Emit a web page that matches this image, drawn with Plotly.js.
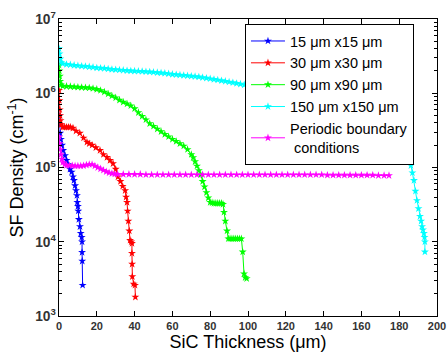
<!DOCTYPE html>
<html>
<head>
<meta charset="utf-8">
<script src="https://cdn.plot.ly/plotly-3.0.1.min.js"></script>
<style>html,body{margin:0;padding:0;background:#fff;}#chart{width:447px;height:355px;}</style>
</head>
<body>
<div id="chart"></div>
<script>
// ---- data ----
const names = ["15 \u03bcm x15 \u03bcm", "30 \u03bcm x30 \u03bcm", "90 \u03bcm x90 \u03bcm", "150 \u03bcm x150 \u03bcm", "Periodic boundary<br> conditions"];
const colors = ["#0000ff", "#ff0000", "#00ff00", "#00ffff", "#ff00ff"];

const blueX = [0,0.3,0.6,1,1.6,2.2,3.2,4,4.8,5.8,6.7,7.4,7.9,8.5,9,9.5,9.7,10,10.2,10.5,11.1,11.5,12,12.2,12.2,12.3,12.5];
const blueY = [5e5,3.8e5,2.9e5,2.4e5,2e5,1.7e5,1.45e5,1.25e5,1.1e5,9.5e4,8.7e4,7.5e4,6.7e4,5.7e4,4.9e4,4.2e4,3.4e4,3.0e4,2.6e4,2.0e4,1.6e4,1.3e4,1.15e4,1.0e4,7.2e3,5.5e3,2.6e3];

const redX = [0,0.2,0.4,0.6,0.8,1.2,2,3,4,5,6,7.4,9,11,13,14.8,16,17.5,19.5,21.7,23.5,25.4,27,28.6,30,31.2,32.5,33.7,35,35.5,36,36.3,36.7,37.2,37.6,38.2,38.6,38.6,38.7,38.8,39.5,40.2,40.4];
const redY = [1.1e6,8e5,6e5,5e5,4.3e5,3.8e5,3.5e5,3.5e5,3.5e5,3.5e5,3.5e5,3.4e5,3.1e5,2.9e5,2.5e5,2.2e5,2.1e5,2.0e5,1.85e5,1.7e5,1.5e5,1.37e5,1.25e5,1.13e5,9.5e4,7.5e4,6.5e4,5.6e4,4.9e4,4.0e4,3.4e4,2.6e4,1.9e4,1.4e4,1.05e4,1.0e4,9.5e3,7e3,5e3,3.4e3,2.7e3,2.6e3,1.8e3];

const greenX = [0,0.2,0.4,0.6,1,2,4,6,8,10,12,14,16,18,20,22,24,26,28,30,32,34,36,38,40,42,44,46,48,50,52,54,56,58,60,62,64,66,68,70,71,72,73,74,75,76,77,78,79,80,81,82,83,84,85,86,86.8,87.3,88,88.9,89.6,90.5,91.5,92.5,93.5,94.5,95.5,96.5,97.2,97.9,98.5,99.3];
const greenY = [2.4e6,2.0e6,1.7e6,1.45e6,1.3e6,1.25e6,1.24e6,1.23e6,1.22e6,1.21e6,1.2e6,1.19e6,1.18e6,1.16e6,1.13e6,1.09e6,1.04e6,9.8e5,9.2e5,8.7e5,8.1e5,7.6e5,7.2e5,6.8e5,6.2e5,5.5e5,4.9e5,4.4e5,3.9e5,3.6e5,3.3e5,3.05e5,2.8e5,2.6e5,2.4e5,2.25e5,2.1e5,1.95e5,1.75e5,1.5e5,1.36e5,1.2e5,1.05e5,9.1e4,8e4,6.5e4,5.5e4,4.6e4,3.9e4,3.4e4,3.35e4,3.3e4,3.3e4,3.3e4,3.3e4,3.3e4,3.2e4,2.5e4,1.9e4,1.4e4,1.1e4,1.1e4,1.1e4,1.1e4,1.1e4,1.1e4,1.1e4,1.1e4,7.3e3,3.7e3,3.3e3,3.2e3];

const cyanX = [0,0.3,0.7,1.2,2,4,6,8,10,12,14,16,18,20,22,24,26,28,30,32,34,36,38,40,42,44,46,48,50,52,54,56,58,60,62,64,66,68,70,72,74,76,78,80,82,84,86,88,90,92,94,96,98,105,115,125,135,145,155,165,172,177,180,182,183.6,185,186.2,187,187.8,188.6,189.4,190.2,191,191.6,192.1,192.6,193.1,193.4,193.6,193.6];
const cyanY = [4e6,3.4e6,2.9e6,2.6e6,2.5e6,2.45e6,2.42e6,2.38e6,2.35e6,2.32e6,2.3e6,2.27e6,2.24e6,2.2e6,2.18e6,2.16e6,2.13e6,2.1e6,2.08e6,2.06e6,2.04e6,2.02e6,2.0e6,1.99e6,1.98e6,1.97e6,1.95e6,1.94e6,1.92e6,1.9e6,1.88e6,1.86e6,1.83e6,1.8e6,1.78e6,1.76e6,1.74e6,1.72e6,1.7e6,1.68e6,1.66e6,1.63e6,1.6e6,1.57e6,1.54e6,1.51e6,1.48e6,1.45e6,1.42e6,1.39e6,1.36e6,1.33e6,1.3e6,1.22e6,1.14e6,1.07e6,1.0e6,9.4e5,8.8e5,8e5,6.5e5,4.5e5,3e5,2.2e5,1.6e5,1.3e5,1.06e5,8.5e4,6.7e4,4.8e4,3.6e4,2.8e4,2.2e4,1.9e4,1.6e4,1.45e4,1.3e4,1.15e4,1.0e4,7.3e3];

const magX = [0,0.3,0.6,1,1.5,2,3,4,5.5,7,8.5,10,11.5,13,14.5,16,17.5,19,20.5,22,23.5,25,26.5,28,29.5,31,34,37,40,43,46,49,52,55,58,61,64,67,70,73,76,79,82,85,88,91,94,97,100,103,106,109,112,115,118,121,124,127,130,133,136,139,142,145,148,151,154,157,160,163,166,169,172,174.6];
const magY = [2.6e5,2.1e5,1.75e5,1.5e5,1.3e5,1.17e5,1.1e5,1.07e5,1.06e5,1.06e5,1.05e5,1.05e5,1.05e5,1.06e5,1.08e5,1.1e5,1.1e5,1.05e5,1.0e5,9.6e4,9.2e4,8.8e4,8.5e4,8.3e4,8.2e4,8.1e4,8.1e4,8.1e4,8.1e4,8.1e4,8.0e4,8.0e4,8.0e4,8.0e4,8.0e4,8.0e4,8.0e4,8.0e4,8.0e4,8.0e4,8.0e4,8.0e4,8.0e4,8.0e4,8.0e4,8.0e4,8.0e4,8.0e4,8.0e4,8.0e4,8.0e4,8.0e4,8.0e4,8.0e4,8.0e4,8.0e4,8.0e4,8.0e4,8.0e4,8.0e4,8.0e4,8.0e4,7.9e4,7.9e4,7.9e4,7.9e4,7.9e4,7.9e4,7.9e4,7.9e4,7.9e4,7.8e4,7.8e4,7.8e4];

const xTicks = [0,20,40,60,80,100,120,140,160,180,200];

const seriesX = [blueX, redX, greenX, cyanX, magX];
const seriesY = [blueY, redY, greenY, cyanY, magY];

const traces = seriesX.map((xs, i) => ({
  x: xs, y: seriesY[i], name: names[i], type: 'scatter', mode: 'lines+markers',
  line: {color: colors[i], width: 1},
  marker: {color: colors[i], size: 6, symbol: 'star'}
}));

const tickFont = {family: 'Liberation Sans, Arial, sans-serif', size: 11, color: '#333', weight: 'bold'};
const layout = {
  width: 447, height: 355,
  margin: {l: 59, r: 10, t: 19, b: 39},
  paper_bgcolor: '#fff', plot_bgcolor: '#fff',
  font: {family: 'Liberation Sans, Arial, sans-serif', color: '#000'},
  showlegend: true,
  legend: {x: 0.492, y: 0.983, xanchor: 'left', yanchor: 'top', bgcolor: '#fff', itemwidth: 34,
           bordercolor: '#000', borderwidth: 1, font: {size: 14.5, color: '#000'}},
  xaxis: {
    range: [0, 200], tickvals: xTicks, ticktext: xTicks.map(String),
    ticks: 'inside', ticklen: 5, tickcolor: '#000', mirror: 'ticks', ticklabeloverflow: 'allow',
    showline: true, linecolor: '#000', linewidth: 1, showgrid: false, zeroline: false,
    tickfont: tickFont,
    title: {text: 'SiC Thickness (\u03bcm)', font: {size: 18, color: '#000'}, standoff: 4}
  },
  yaxis: {
    type: 'log', range: [3, 7], dtick: 1, exponentformat: 'power',
    ticks: 'inside', ticklen: 5, tickcolor: '#000', mirror: 'ticks',
    minor: {ticks: 'inside', ticklen: 3, tickcolor: '#000', dtick: 'D1', showgrid: false},
    showline: true, linecolor: '#000', linewidth: 1, showgrid: false, zeroline: false,
    tickfont: tickFont,
    title: {text: 'SF Density (cm<sup>-1</sup>)', font: {size: 18, color: '#000'}, standoff: 6}
  }
};

Plotly.newPlot('chart', traces, layout, {displayModeBar: false, staticPlot: true});
</script>
</body>
</html>
